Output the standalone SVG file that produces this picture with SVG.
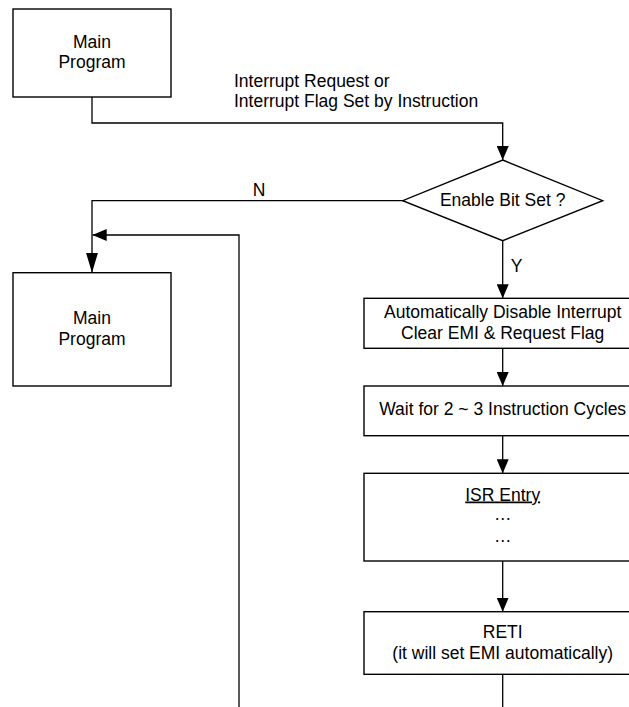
<svg xmlns="http://www.w3.org/2000/svg" width="629" height="707" viewBox="0 0 629 707">
<style>
  .box { fill: #ffffff; stroke: #000000; stroke-width: 1.4; }
  .edge { fill: none; stroke: #000000; stroke-width: 1.3; }
  text { font-family: "Liberation Sans", Arial, sans-serif; font-size: 17.5px; fill: #000000; }
  .c { text-anchor: middle; }
</style>
<defs>
  <marker id="ah" markerUnits="userSpaceOnUse" markerWidth="14" markerHeight="12" refX="14" refY="6" orient="auto">
    <path d="M0,0 L14,6 L0,12 z" fill="#000000"/>
  </marker>
  <marker id="ahl" markerUnits="userSpaceOnUse" markerWidth="20" markerHeight="12" refX="20" refY="6" orient="auto">
    <path d="M0,0 L20,6 L0,12 z" fill="#000000"/>
  </marker>
</defs>
<rect width="629" height="707" fill="#ffffff"/>

<g id="connectors">
  <path class="edge" d="M92,97 V123 H502.7 V160" marker-end="url(#ah)"/>
  <path class="edge" d="M402.7,200.7 H92 V272.7" marker-end="url(#ahl)"/>
  <path class="edge" d="M239,707 V235 H92.7" marker-end="url(#ah)"/>
  <path class="edge" d="M502.7,240.7 V298.3" marker-end="url(#ah)"/>
  <path class="edge" d="M502.7,348.3 V386" marker-end="url(#ah)"/>
  <path class="edge" d="M502.7,435.7 V473.3" marker-end="url(#ah)"/>
  <path class="edge" d="M502.7,561 V611.7" marker-end="url(#ah)"/>
  <path class="edge" d="M502.7,674.3 V707"/>
  <text x="234" y="86.5">Interrupt Request or</text>
  <text x="234" y="106.5">Interrupt Flag Set by Instruction</text>
  <text class="c" x="259" y="195.7">N</text>
  <text x="510.7" y="271.7">Y</text>
</g>

<g id="main1">
  <rect class="box" x="13" y="9" width="158" height="88"/>
  <text class="c" x="92" y="47.7">Main</text>
  <text class="c" x="92" y="68">Program</text>
</g>

<g id="decision">
  <polygon class="box" points="502.7,160 602.7,200.7 502.7,240.7 402.7,200.7"/>
  <text class="c" x="502.7" y="205.7">Enable Bit Set ?</text>
</g>

<g id="main2">
  <rect class="box" x="13" y="272.7" width="158" height="113.3"/>
  <text class="c" x="92" y="324">Main</text>
  <text class="c" x="92" y="345">Program</text>
</g>

<g id="disable">
  <rect class="box" x="364" y="298.3" width="277" height="50"/>
  <text class="c" x="502.7" y="318">Automatically Disable Interrupt</text>
  <text class="c" x="502.7" y="339">Clear EMI &amp; Request Flag</text>
</g>

<g id="wait">
  <rect class="box" x="364" y="386" width="277" height="49.7"/>
  <text class="c" x="502.7" y="415">Wait for 2 ~ 3 Instruction Cycles</text>
</g>

<g id="isr">
  <rect class="box" x="364" y="473.3" width="277" height="87.7"/>
  <text class="c" x="502.7" y="500.5" text-decoration="underline">ISR Entry</text>
  <text class="c" x="502.7" y="519.5">…</text>
  <text class="c" x="502.7" y="541.5">…</text>
</g>

<g id="reti">
  <rect class="box" x="364" y="611.7" width="277" height="62.6"/>
  <text class="c" x="502.7" y="638">RETI</text>
  <text class="c" x="502.7" y="659">(it will set EMI automatically)</text>
</g>
</svg>
